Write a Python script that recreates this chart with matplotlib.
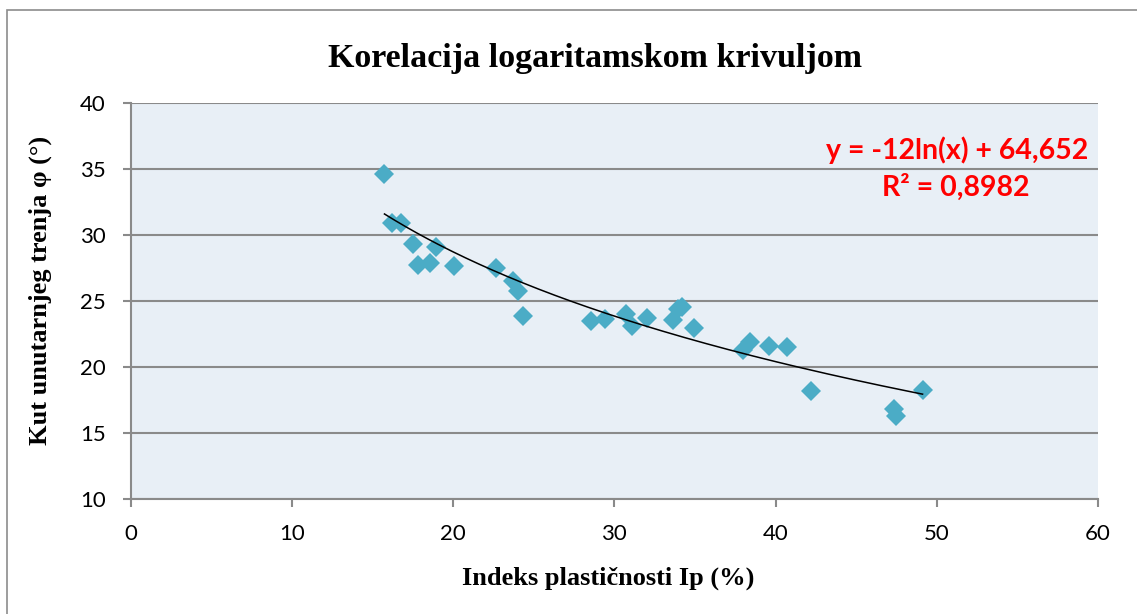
import numpy as np
import matplotlib
matplotlib.use("Agg")
import matplotlib.pyplot as plt
from matplotlib.patches import Rectangle

# plasticity index Ip (%) vs internal friction angle (deg)
ip_values = [15.75, 16.2, 16.76, 17.55, 18.95, 17.8, 18.58, 20.07, 22.67, 23.7,
             24.0, 24.37, 28.57, 29.4, 30.74, 31.09, 32.06, 33.67, 33.95, 34.2,
             34.97, 37.98, 38.39, 39.6, 40.7, 42.2, 47.32, 47.47, 49.12]
phi_values = [34.58, 30.9, 30.86, 29.3, 29.1, 27.7, 27.83, 27.63, 27.45, 26.5,
              25.7, 23.84, 23.46, 23.59, 24.0, 23.06, 23.67, 23.54, 24.35, 24.5,
              22.9, 21.27, 21.9, 21.6, 21.5, 18.14, 16.8, 16.27, 18.23]

# logarithmic trendline shown on the chart
trend_a = -12.0
trend_b = 64.652
eq_text = "y = -12ln(x) + 64,652"
r2_text = "R² = 0,8982"

x_ticks = [0, 10, 20, 30, 40, 50, 60]
y_ticks = [10, 15, 20, 25, 30, 35, 40]

W, H = 1137, 614
fig = plt.figure(figsize=(W / 100, H / 100), dpi=100)
ax = fig.add_axes([130.5 / W, 1 - 498.7 / H, (1098 - 130.5) / W, (498.7 - 102.7) / H])

# outer chart border (only left/top edges are visible in the picture)
fig.patches.append(Rectangle((7 / W, -0.05), 1.1, 1 - 10 / H + 0.05, transform=fig.transFigure,
                             fill=False, edgecolor="#8c8c8c", lw=1.2))

grid_col = "#8a8a8a"
ax.set_facecolor("#e8eff6")
ax.set_xlim(0, 60)
ax.set_ylim(10, 40)
ax.set_xticks(x_ticks)
ax.set_yticks(y_ticks)
ax.yaxis.grid(True, color=grid_col, lw=1.5)
ax.set_axisbelow(True)
for s in ["top", "right"]:
    ax.spines[s].set_visible(False)
for s in ["left", "bottom"]:
    ax.spines[s].set_color(grid_col)
    ax.spines[s].set_linewidth(1.5)
ax.tick_params(direction="out", length=6, width=1.5, color=grid_col,
               labelsize=16, labelcolor="black", pad=12)
for lab in ax.get_xticklabels() + ax.get_yticklabels():
    lab.set_fontfamily("Lato")

ax.plot(ip_values, phi_values, linestyle="none", marker="D", markersize=10.5,
        markeredgewidth=0, color="#4bacc6", zorder=3)

xs = np.linspace(min(ip_values), max(ip_values), 200)
ax.plot(xs, trend_a * np.log(xs) + trend_b, color="black", lw=1.1, zorder=4)

ax.text(1088 / W, 1 - 150 / H, eq_text, transform=fig.transFigure, ha="right", va="center",
        color="#ff0000", fontsize=20.5, fontweight="bold", family="Lato")
ax.text(1030 / W, 1 - 187 / H, r2_text, transform=fig.transFigure, ha="right", va="center",
        color="#ff0000", fontsize=20.5, fontweight="bold", family="Lato")

fig.text(595 / W, 1 - 58 / H, "Korelacija logaritamskom krivuljom", ha="center", va="center",
         fontsize=24.5, fontweight="bold", family="Liberation Serif")
fig.text(608 / W, 1 - 578 / H, "Indeks plastičnosti Ip (%)", ha="center", va="center",
         fontsize=19, fontweight="bold", family="Liberation Serif")
fig.text(40 / W, 1 - 290 / H, "Kut unutarnjeg trenja φ (°)", ha="center", va="center",
         rotation=90, fontsize=19, fontweight="bold", family="Liberation Serif")

fig.savefig("out.png", dpi=100)
